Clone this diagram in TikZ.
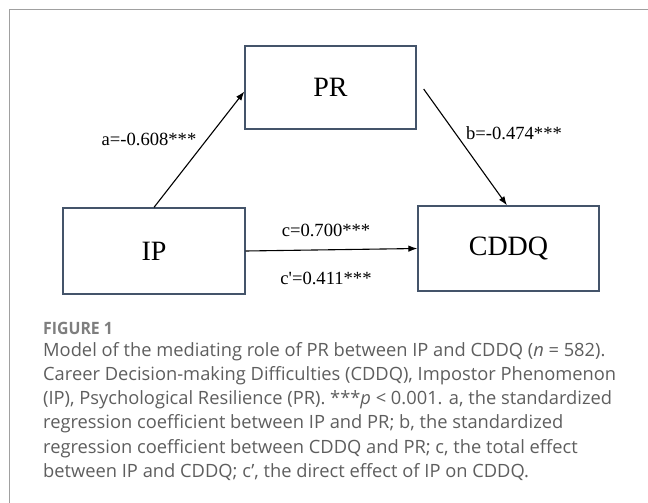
\documentclass[tikz,border=0pt]{standalone}
\usepackage{fontspec}
\setmainfont{Liberation Serif}
\newfontfamily\capfont{Open Sans}
\newfontfamily\figfont[FakeStretch=0.93]{Open Sans}
\usetikzlibrary{arrows.meta}
\definecolor{boxline}{HTML}{44546A}
\definecolor{captext}{HTML}{5E5E5E}
\definecolor{framegray}{HTML}{A0A0A0}
\tikzstyle{var} = [draw=boxline, line width=1.3pt, inner sep=0pt, font={\fontsize{28}{30}\selectfont}]
\tikzstyle{coef} = [font={\fontsize{18.6}{20}\selectfont}, inner sep=0pt]
\tikzstyle{path} = [->, >={Latex[length=9pt,width=6.5pt]}, line width=1.1pt]

\begin{document}
\begin{tikzpicture}[x=1pt,y=-1pt]
    \useasboundingbox (0,0) rectangle (648,503);
    \draw[framegray, line width=1.2pt] (9.5,503) -- (9.5,9.5) -- (648,9.5);
    \node[var, minimum width=171pt, minimum height=83pt](pr) at (330.5,87.5){PR};
    \node[var, minimum width=182pt, minimum height=86pt](ip) at (154,251){IP};
    \node[var, minimum width=181pt, minimum height=85pt](cddq) at (508.5,248.5){CDDQ};
    \draw[path](ip.north)--([yshift=-4pt]pr.west);
    \draw[path]([xshift=7pt,yshift=-1.5pt]pr.east)--([xshift=-1.5pt]cddq.north);
    \draw[path](ip.east)--(cddq.west);
    \node[coef](a) at (149,139){a=-0.608***};
    \node[coef](b) at (514,133){b=-0.474***};
    \node[coef](c) at (326,230){c=0.700***};
    \node[coef](c2) at (326,278){c\textquotesingle=0.411***};
    \node[anchor=west, inner sep=0pt, text=captext!80!white, font={\figfont\fontsize{17}{18}\selectfont\bfseries}](fig) at (43,328){FIGURE 1};
    \node[anchor=north west, inner sep=0pt, text=captext, align=left,
      font={\capfont\fontsize{18.3}{24.2}\selectfont}](cap) at (43,342){%
      Model of the mediating role of PR between IP and CDDQ (\textit{n} = 582).\\
      Career Decision-making Difficulties (CDDQ), Impostor Phenomenon\\
      (IP), Psychological Resilience (PR). ***\textit{p} < 0.001. a, the standardized\\
      regression coefficient between IP and PR; b, the standardized\\
      regression coefficient between CDDQ and PR; c, the total effect\\
      between IP and CDDQ; c’, the direct effect of IP on CDDQ.};
  \end{tikzpicture}
\end{document}
